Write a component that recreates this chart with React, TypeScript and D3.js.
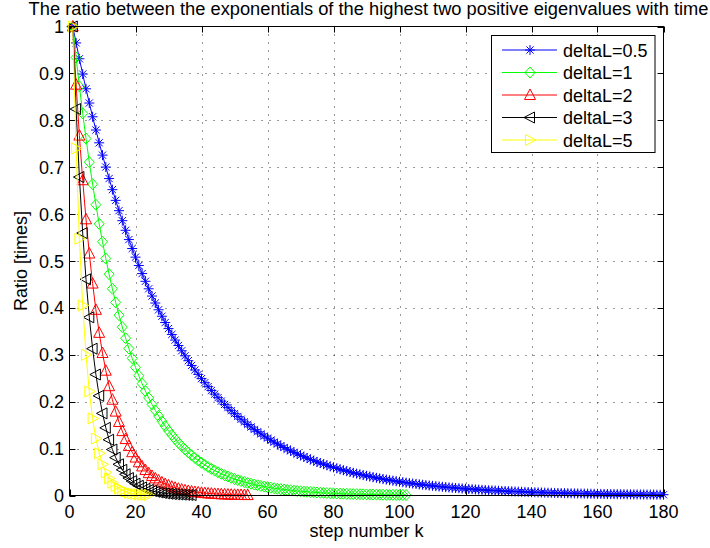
import React from "react";
import * as d3 from "d3";

const titleText = "The ratio between the exponentials of the highest two positive eigenvalues with time";
const xLabel = "step number k";
const yLabel = "Ratio [times]";
const xTicks = [0, 20, 40, 60, 80, 100, 120, 140, 160, 180];
const yTicks = [0, 0.1, 0.2, 0.3, 0.4, 0.5, 0.6, 0.7, 0.8, 0.9, 1];
const seriesNames = ["deltaL=0.5", "deltaL=1", "deltaL=2", "deltaL=3", "deltaL=5"];

const blueValues = [
  1, 0.965, 0.9312, 0.8986, 0.8672, 0.8368, 0.8075, 0.7793, 0.752, 0.7257,
  0.7003, 0.6758, 0.6521, 0.6293, 0.6073, 0.586, 0.5655, 0.5457, 0.5266, 0.5082,
  0.4904, 0.4732, 0.4567, 0.4407, 0.4253, 0.4104, 0.396, 0.3822, 0.3688, 0.3559,
  0.3434, 0.3314, 0.3198, 0.3086, 0.2978, 0.2874, 0.2773, 0.2676, 0.2583, 0.2492,
  0.2405, 0.2321, 0.224, 0.2161, 0.2086, 0.2013, 0.1942, 0.1874, 0.1809, 0.1746,
  0.1685, 0.1626, 0.1569, 0.1514, 0.1461, 0.141, 0.136, 0.1313, 0.1267, 0.1223,
  0.118, 0.1138, 0.1099, 0.106, 0.1023, 0.0987, 0.0953, 0.0919, 0.0887, 0.0856,
  0.0826, 0.0797, 0.0769, 0.0742, 0.0716, 0.0691, 0.0667, 0.0644, 0.0621, 0.06,
  0.0579, 0.0558, 0.0539, 0.052, 0.0502, 0.0484, 0.0467, 0.0451, 0.0435, 0.042,
  0.0405, 0.0391, 0.0377, 0.0364, 0.0351, 0.0339, 0.0327, 0.0316, 0.0305, 0.0294,
  0.0284, 0.0274, 0.0264, 0.0255, 0.0246, 0.0237, 0.0229, 0.0221, 0.0213, 0.0206,
  0.0199, 0.0192, 0.0185, 0.0178, 0.0172, 0.0166, 0.016, 0.0155, 0.0149, 0.0144,
  0.0139, 0.0134, 0.0129, 0.0125, 0.0121, 0.0116, 0.0112, 0.0108, 0.0105, 0.0101,
  0.0097, 0.0094, 0.0091, 0.0088, 0.0085, 0.0082, 0.0079, 0.0076, 0.0073, 0.0071,
  0.0068, 0.0066, 0.0064, 0.0061, 0.0059, 0.0057, 0.0055, 0.0053, 0.0051, 0.005,
  0.0048, 0.0046, 0.0045, 0.0043, 0.0042, 0.004, 0.0039, 0.0037, 0.0036, 0.0035,
  0.0034, 0.0032, 0.0031, 0.003, 0.0029, 0.0028, 0.0027, 0.0026, 0.0025, 0.0024,
  0.0023, 0.0023, 0.0022, 0.0021, 0.002, 0.002, 0.0019, 0.0018, 0.0018, 0.0017,
];

const greenValues = [
  1, 0.934, 0.8724, 0.8148, 0.761, 0.7108, 0.6639, 0.6201, 0.5792, 0.541,
  0.5053, 0.4719, 0.4408, 0.4117, 0.3845, 0.3591, 0.3354, 0.3133, 0.2926, 0.2733,
  0.2553, 0.2384, 0.2227, 0.208, 0.1943, 0.1814, 0.1695, 0.1583, 0.1478, 0.1381,
  0.129, 0.1205, 0.1125, 0.1051, 0.0982, 0.0917, 0.0856, 0.08, 0.0747, 0.0698,
  0.0652, 0.0609, 0.0568, 0.0531, 0.0496, 0.0463, 0.0433, 0.0404, 0.0377, 0.0352,
  0.0329, 0.0307, 0.0287, 0.0268, 0.0251, 0.0234, 0.0219, 0.0204, 0.0191, 0.0178,
  0.0166, 0.0155, 0.0145, 0.0136, 0.0127, 0.0118, 0.0111, 0.0103, 0.0096, 0.009,
  0.0084, 0.0079, 0.0073, 0.0069, 0.0064, 0.006, 0.0056, 0.0052, 0.0049, 0.0046,
  0.0043, 0.004, 0.0037, 0.0035, 0.0033, 0.003, 0.0028, 0.0027, 0.0025, 0.0023,
  0.0022, 0.002, 0.0019, 0.0018, 0.0016, 0.0015, 0.0014, 0.0013, 0.0012, 0.0012,
  0.0011, 0.001,
];

const redValues = [
  1, 0.876, 0.7674, 0.6722, 0.5889, 0.5159, 0.4519, 0.3959, 0.3468, 0.3038,
  0.2661, 0.2331, 0.2042, 0.1789, 0.1567, 0.1373, 0.1203, 0.1054, 0.0923, 0.0809,
  0.0708, 0.062, 0.0543, 0.0476, 0.0417, 0.0365, 0.032, 0.028, 0.0246, 0.0215,
  0.0188, 0.0165, 0.0145, 0.0127, 0.0111, 0.0097, 0.0085, 0.0075, 0.0065, 0.0057,
  0.005, 0.0044, 0.0039, 0.0034, 0.003, 0.0026, 0.0023, 0.002, 0.0017, 0.0015,
  0.0013, 0.0012, 0.001, 0.0009,
];

const blackValues = [
  1, 0.824, 0.679, 0.5595, 0.461, 0.3799, 0.313, 0.2579, 0.2125, 0.1751,
  0.1443, 0.1189, 0.098, 0.0807, 0.0665, 0.0548, 0.0452, 0.0372, 0.0307, 0.0253,
  0.0208, 0.0172, 0.0141, 0.0116, 0.0096, 0.0079, 0.0065, 0.0054, 0.0044, 0.0036,
  0.003, 0.0025, 0.0021, 0.0017, 0.0014, 0.0011, 0.0009,
];

const yellowValues = [
  1, 0.74, 0.5476, 0.4052, 0.2999, 0.2219, 0.1642, 0.1215, 0.0899, 0.0666,
  0.0493, 0.0364, 0.027, 0.02, 0.0148, 0.0109, 0.0081, 0.006, 0.0044, 0.0033,
  0.0024, 0.0018, 0.0013, 0.001,
];

const seriesData = [blueValues, greenValues, redValues, blackValues, yellowValues];
const seriesColors = ["#0000ff", "#00ff00", "#ff0000", "#000000", "#ffff00"];
const markerPaths = [
  "M-5,0H5M0,-5V5M-3.6,-3.6L3.6,3.6M-3.6,3.6L3.6,-3.6",
  "M0,-5.5L5,0L0,5.5L-5,0Z",
  "M0,-6L5.5,4.5L-5.5,4.5Z",
  "M-6,0L4.5,-5.5L4.5,5.5Z",
  "M6,0L-4.5,-5.5L-4.5,5.5Z",
];

const W = 710;
const H = 548;
const L = 69.5;
const R = 663.5;
const T = 26.5;
const B = 495.5;
const FONT = "'Liberation Sans', Arial, Helvetica, sans-serif";

export default function App() {
  const x = d3.scaleLinear().domain([0, 180]).range([L, R]);
  const y = d3.scaleLinear().domain([0, 1]).range([B, T]);
  const line = d3
    .line<number>()
    .x((_, i) => x(i + 1))
    .y((d) => y(d));
  const fmt = d3.format("");
  const tickLen = 6;
  const legendX = 491.5;
  const legendY = 35.5;
  const legendW = 163.5;
  const legendH = 117;
  const rowH = 22.5;

  return (
    <svg
      width={W}
      height={H}
      style={{ position: "absolute", left: 0, top: 0, background: "#fff" }}
      fontFamily={FONT}
    >
      <rect x={0} y={0} width={W} height={H} fill="#fff" />
      {/* grid */}
      {xTicks.slice(1, -1).map((t) => (
        <line
          key={"gx" + t}
          x1={Math.round(x(t)) + 0.5}
          x2={Math.round(x(t)) + 0.5}
          y1={T}
          y2={B}
          stroke="#000"
          strokeWidth={1}
          strokeDasharray="1 7"
          opacity={0.8}
        />
      ))}
      {yTicks.slice(1, -1).map((t) => (
        <line
          key={"gy" + t}
          x1={L}
          x2={R}
          y1={Math.round(y(t)) + 0.5}
          y2={Math.round(y(t)) + 0.5}
          stroke="#000"
          strokeWidth={1}
          strokeDasharray="1 7"
          opacity={0.8}
        />
      ))}
      {/* ticks */}
      {xTicks.map((t) => (
        <g key={"tx" + t}>
          <line x1={Math.round(x(t)) + 0.5} x2={Math.round(x(t)) + 0.5} y1={B} y2={B - tickLen} stroke="#000" />
          <line x1={Math.round(x(t)) + 0.5} x2={Math.round(x(t)) + 0.5} y1={T} y2={T + tickLen} stroke="#000" />
          <text x={x(t)} y={518} fontSize={18} textAnchor="middle" fill="#000">
            {fmt(t)}
          </text>
        </g>
      ))}
      {yTicks.map((t) => (
        <g key={"ty" + t}>
          <line x1={L} x2={L + tickLen} y1={Math.round(y(t)) + 0.5} y2={Math.round(y(t)) + 0.5} stroke="#000" />
          <line x1={R} x2={R - tickLen} y1={Math.round(y(t)) + 0.5} y2={Math.round(y(t)) + 0.5} stroke="#000" />
          <text x={64} y={y(t) + 6.5} fontSize={18} textAnchor="end" fill="#000">
            {fmt(t)}
          </text>
        </g>
      ))}
      {/* series */}
      {seriesData.map((vals, si) => (
        <g key={"s" + si}>
          <path d={line(vals) || ""} fill="none" stroke={seriesColors[si]} strokeWidth={1} />
          {vals.map((v, i) => (
            <path
              key={i}
              d={markerPaths[si]}
              transform={`translate(${x(i + 1)},${y(v)})`}
              fill="none"
              stroke={seriesColors[si]}
              strokeWidth={1}
            />
          ))}
        </g>
      ))}
      {/* axes box */}
      <rect x={L} y={T} width={R - L} height={B - T} fill="none" stroke="#000" strokeWidth={1} />
      {/* legend */}
      <rect x={legendX} y={legendY} width={legendW} height={legendH} fill="#fff" stroke="#000" strokeWidth={1} />
      {seriesNames.map((name, i) => {
        const cy = 50 + i * rowH;
        return (
          <g key={"lg" + i}>
            <line x1={502} x2={557} y1={cy} y2={cy} stroke={seriesColors[i]} strokeWidth={1} />
            <path d={markerPaths[i]} transform={`translate(530,${cy})`} fill="none" stroke={seriesColors[i]} strokeWidth={1} />
            <text x={563} y={cy + 6.5} fontSize={18} fill="#000">
              {name}
            </text>
          </g>
        );
      })}
      {/* labels */}
      <text x={(L + R) / 2 + 2} y={15} fontSize={18.3} textAnchor="middle" fill="#000">
        {titleText}
      </text>
      <text x={(L + R) / 2} y={537} fontSize={18} textAnchor="middle" fill="#000">
        {xLabel}
      </text>
      <text
        transform={`translate(27,${(T + B) / 2}) rotate(-90)`}
        fontSize={18}
        textAnchor="middle"
        fill="#000"
      >
        {yLabel}
      </text>
    </svg>
  );
}
